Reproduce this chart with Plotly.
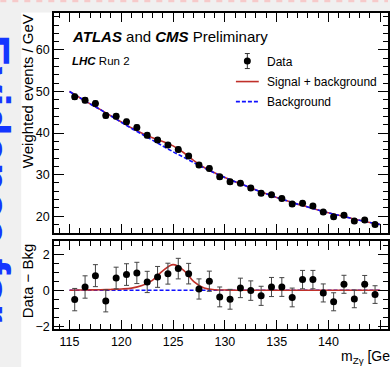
import plotly.graph_objects as go

# ---------------- data ----------------
bin_centers = [115.5, 116.5, 117.5, 118.5, 119.5, 120.5, 121.5, 122.5, 123.5, 124.5,
               125.5, 126.5, 127.5, 128.5, 129.5, 130.5, 131.5, 132.5, 133.5, 134.5,
               135.5, 136.5, 137.5, 138.5, 139.5, 140.5, 141.5, 142.5, 143.5, 144.5]
data_values = [48.73, 47.93, 47.11, 44.26, 44.03, 42.72, 41.36, 39.46, 38.34, 37.12,
               36.05, 34.47, 32.32, 31.50, 29.48, 28.30, 27.93, 26.78, 25.54, 25.13,
               24.28, 22.90, 23.14, 22.44, 21.00, 19.86, 20.23, 18.82, 19.08, 18.01]
data_errors = [0.62, 0.62, 0.61, 0.61, 0.60, 0.60, 0.59, 0.59, 0.58, 0.58,
               0.57, 0.57, 0.56, 0.56, 0.55, 0.55, 0.54, 0.54, 0.53, 0.53,
               0.52, 0.52, 0.51, 0.51, 0.50, 0.50, 0.50, 0.49, 0.49, 0.49]
residuals = [-0.52, 0.18, 0.81, -0.59, 0.68, 0.87, 0.96, 0.46, 0.74, 0.92,
             1.20, 0.92, 0.07, 0.50, -0.37, -0.50, 0.13, -0.02, -0.31, 0.18,
             0.18, -0.40, 0.59, 0.59, -0.15, -0.64, 0.33, -0.48, 0.33, -0.24]

curve_x = [115, 116, 117, 118, 119, 120, 121, 122, 123, 124, 125, 126, 127, 128, 129, 130,
           131, 132, 133, 134, 135, 136, 137, 138, 139, 140, 141, 142, 143, 144, 145]
background = [50.0, 48.5, 47.0, 45.6, 44.1, 42.6, 41.1, 39.7, 38.3, 36.9, 35.5, 34.2, 32.9,
              31.6, 30.4, 29.3, 28.3, 27.3, 26.3, 25.4, 24.5, 23.7, 22.9, 22.2, 21.5, 20.8,
              20.2, 19.6, 19.0, 18.5, 18.0]
signal = [0.0, 0.01, 0.02, 0.03, 0.045, 0.07, 0.12, 0.26, 0.55, 1.08, 1.42, 1.12, 0.48,
          0.12, 0.03, 0.01, 0.0, 0.0, 0.0, 0.0, 0.0, 0.0, 0.0, 0.0, 0.0, 0.0, 0.0, 0.0,
          0.0, 0.0, 0.0]
bkg_residual = [0.0] * len(curve_x)

x_ticks = [115, 120, 125, 130, 135, 140, 145]
sig_plus_bkg = [b + s for b, s in zip(background, signal)]

# ---------------- styling ----------------
W, H = 390, 367
ML, MR, MT, MB = 54, 0, 13, 38.3
PW, PH = W - ML - MR, H - MT - MB
RED = "#c0302a"
BLUE = "#1010ff"
FONT = "Liberation Sans, Arial, Helvetica, sans-serif"


def px_x(p):
    return (p - ML) / PW


def px_y(p):
    return (H - MB - p) / PH


top_dom = [px_y(233), 1.0]
bot_dom = [0.0, px_y(241)]

fig = go.Figure()

# top panel
fig.add_trace(go.Scatter(x=curve_x, y=sig_plus_bkg, mode="lines", xaxis="x", yaxis="y",
                         line=dict(color=RED, width=1.6, shape="spline"), showlegend=False))
fig.add_trace(go.Scatter(x=curve_x, y=background, mode="lines", xaxis="x", yaxis="y",
                         line=dict(color=BLUE, width=1.6, dash="4px,2px", shape="spline"),
                         showlegend=False))
fig.add_trace(go.Scatter(x=bin_centers, y=data_values, mode="markers", xaxis="x", yaxis="y",
                         marker=dict(color="black", size=7),
                         error_y=dict(type="data", array=data_errors, color="#333",
                                      thickness=1, width=2.5),
                         showlegend=False))

# bottom panel
fig.add_trace(go.Scatter(x=curve_x, y=bkg_residual, mode="lines", xaxis="x2", yaxis="y2",
                         line=dict(color=BLUE, width=1.6, dash="4px,2px"), showlegend=False))
fig.add_trace(go.Scatter(x=curve_x, y=signal, mode="lines", xaxis="x2", yaxis="y2",
                         line=dict(color=RED, width=1.6, shape="spline"), showlegend=False))
fig.add_trace(go.Scatter(x=bin_centers, y=residuals, mode="markers", xaxis="x2", yaxis="y2",
                         marker=dict(color="black", size=7),
                         error_y=dict(type="data", array=data_errors, color="#444",
                                      thickness=1, width=2.5),
                         showlegend=False))

axis_common = dict(showline=True, linecolor="black", linewidth=1.5, mirror="allticks",
                   ticks="inside", tickcolor="black", tickwidth=1, showgrid=False,
                   zeroline=False, tickfont=dict(family=FONT, size=12.5, color="black"))
xr = [113.5, 145.75]
fig.update_layout(
    xaxis=dict(domain=[0, 1], anchor="y", range=xr, tickvals=x_ticks, showticklabels=False,
               ticklen=9, minor=dict(dtick=1, tick0=115, ticks="inside", ticklen=5,
                                     tickcolor="black", showgrid=False), **axis_common),
    xaxis2=dict(domain=[0, 1], anchor="y2", range=xr, tickvals=x_ticks, ticklen=9,
                minor=dict(dtick=1, tick0=115, ticks="inside", ticklen=5,
                           tickcolor="black", showgrid=False), **axis_common),
    yaxis=dict(domain=top_dom, anchor="x", range=[15.9, 68.9], dtick=10, tick0=0, ticklen=10,
               minor=dict(dtick=2, tick0=0, ticks="inside", ticklen=5, tickcolor="black",
                          showgrid=False), **axis_common),
    yaxis2=dict(domain=bot_dom, anchor="x2", range=[-2.15, 2.72], dtick=2, tick0=0, ticklen=10,
                minor=dict(dtick=0.5, tick0=0, ticks="inside", ticklen=5, tickcolor="black",
                           showgrid=False), **axis_common),
)

shapes = []
# page background bits (gray strip at left and top, pink dashed rule)
GRAY = "#f0f0f0"
shapes.append(dict(type="rect", xref="paper", yref="paper", x0=px_x(-2), x1=px_x(21),
                   y0=px_y(H + 2), y1=px_y(-2), fillcolor=GRAY, line=dict(width=0), layer="below"))
shapes.append(dict(type="rect", xref="paper", yref="paper", x0=px_x(-2), x1=px_x(W + 2),
                   y0=px_y(12.5), y1=px_y(-2), fillcolor=GRAY, line=dict(width=0), layer="below"))
shapes.append(dict(type="line", xref="paper", yref="paper", x0=px_x(0), x1=px_x(W),
                   y0=px_y(1), y1=px_y(1), line=dict(color="#f6caca", width=2.5, dash="6px,6px")))

# legend samples
lx0, lx1 = 237, 260
shapes.append(dict(type="line", xref="paper", yref="paper", x0=px_x(lx0), x1=px_x(lx1),
                   y0=px_y(81.5), y1=px_y(81.5), line=dict(color=RED, width=1.6)))
shapes.append(dict(type="line", xref="paper", yref="paper", x0=px_x(lx0), x1=px_x(lx1),
                   y0=px_y(101.5), y1=px_y(101.5), line=dict(color=BLUE, width=1.6, dash="4px,2px")))
dxc = 248.5
shapes.append(dict(type="line", xref="paper", yref="paper", x0=px_x(dxc), x1=px_x(dxc),
                   y0=px_y(53.5), y1=px_y(68.5), line=dict(color="#333", width=1)))
for yy in (53.5, 68.5):
    shapes.append(dict(type="line", xref="paper", yref="paper", x0=px_x(dxc - 2.5),
                       x1=px_x(dxc + 2.5), y0=px_y(yy), y1=px_y(yy),
                       line=dict(color="#333", width=1)))
shapes.append(dict(type="circle", xref="paper", yref="paper", x0=px_x(dxc - 3.5),
                   x1=px_x(dxc + 3.5), y0=px_y(61 + 3.5), y1=px_y(61 - 3.5),
                   fillcolor="black", line=dict(color="black", width=0)))

annotations = []


def txt(text, xp, yp, size, xanchor="left", yanchor="middle", angle=0, color="black"):
    annotations.append(dict(text=text, xref="paper", yref="paper", x=px_x(xp), y=px_y(yp),
                            xanchor=xanchor, yanchor=yanchor, showarrow=False, textangle=angle,
                            font=dict(family=FONT, size=size, color=color)))


txt("<b><i>ATLAS</i></b> and <b><i>CMS</i></b> Preliminary", 70, 36.5, 15)
txt("<b><i>LHC</i></b> Run 2", 70, 61, 11.5)
txt("Data", 266, 61.5, 12)
txt("Signal + background", 266, 82, 12)
txt("Background", 266, 102, 12)
txt("Weighted events / GeV", 27.5, 12.5, 15, xanchor="center", yanchor="top", angle=-90)
txt("Data − Bkg", 27.5, 241, 15, xanchor="center", yanchor="top", angle=-90)
txt("m<sub>Zγ</sub> [GeV]", 341, 357, 14)
# blue slide lettering clipped at the left edge
annotations.append(dict(text="<b>Evidence for</b>", xref="paper", yref="paper",
                        x=px_x(21), y=px_y(178), xanchor="right", yanchor="middle",
                        showarrow=False, textangle=90,
                        font=dict(family=FONT, size=48, color="#1436ff")))

fig.update_layout(width=W, height=H, margin=dict(l=ML, r=MR, t=MT, b=MB),
                  paper_bgcolor="white", plot_bgcolor="white", shapes=shapes,
                  annotations=annotations, showlegend=False)

fig.write_html("out.html")
